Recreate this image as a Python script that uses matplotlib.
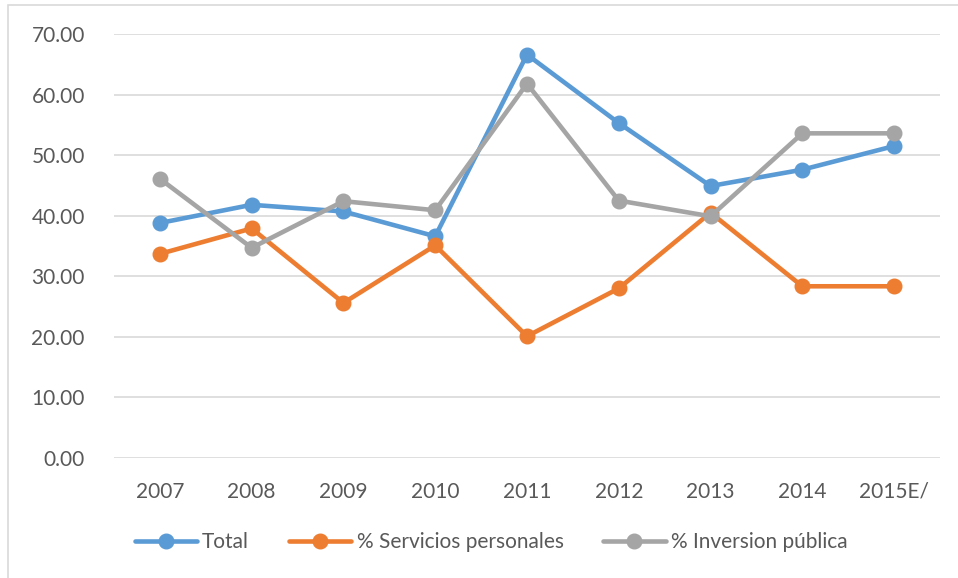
import matplotlib
matplotlib.use("Agg")
import matplotlib.pyplot as plt
from matplotlib.patches import Rectangle

# data
years = ["2007", "2008", "2009", "2010", "2011", "2012", "2013", "2014", "2015E/"]
total = [38.8, 41.8, 40.7, 36.6, 66.6, 55.3, 44.9, 47.6, 51.5]
servicios = [33.7, 37.9, 25.6, 35.1, 20.1, 28.0, 40.5, 28.35, 28.35]
inversion = [46.1, 34.7, 42.4, 40.9, 61.8, 42.5, 39.9, 53.6, 53.6]

plt.rcParams['font.family'] = ['Lato', 'DejaVu Sans']

W, H = 958, 578
fig = plt.figure(figsize=(W / 100, H / 100), dpi=100)
ax = fig.add_axes([114 / W, 1 - 458 / H, (940 - 114) / W, (458 - 34) / H])

# outer chart border
fig.patches.append(Rectangle((8 / W, -0.1), 1.2, 1 - 5 / H + 0.1, transform=fig.transFigure,
                             fill=False, edgecolor="#D9D9D9", linewidth=1.2))

x = range(len(years))
series = [(total, "Total", "#5B9BD5"),
          (servicios, "% Servicios personales", "#ED7D31"),
          (inversion, "% Inversion pública", "#A5A5A5")]
for vals, name, col in series:
    ax.plot(x, vals, color=col, linewidth=3.3, marker="o", markersize=10.5, label=name,
            solid_capstyle="round", zorder=3)

ax.set_xlim(-0.5, len(years) - 0.5)
ax.set_ylim(0, 70)
ax.set_yticks(range(0, 71, 10))
ax.set_yticklabels([f"{v:.2f}" for v in range(0, 71, 10)])
ax.set_xticks(list(x))
ax.set_xticklabels(years)
ax.grid(axis="y", color="#D9D9D9", linewidth=1.2)
ax.set_axisbelow(True)
for s in ax.spines.values():
    s.set_visible(False)
ax.tick_params(length=0, labelsize=15, labelcolor="#595959")
ax.tick_params(axis="y", pad=21)
ax.tick_params(axis="x", pad=17)

fig.legend(loc="center", bbox_to_anchor=(491 / W, 1 - 542 / H), ncol=3, frameon=False,
           fontsize=15, handlelength=3.0, handletextpad=0.25, columnspacing=1.9,
           labelcolor="#595959")

fig.savefig("out.png", dpi=100)
